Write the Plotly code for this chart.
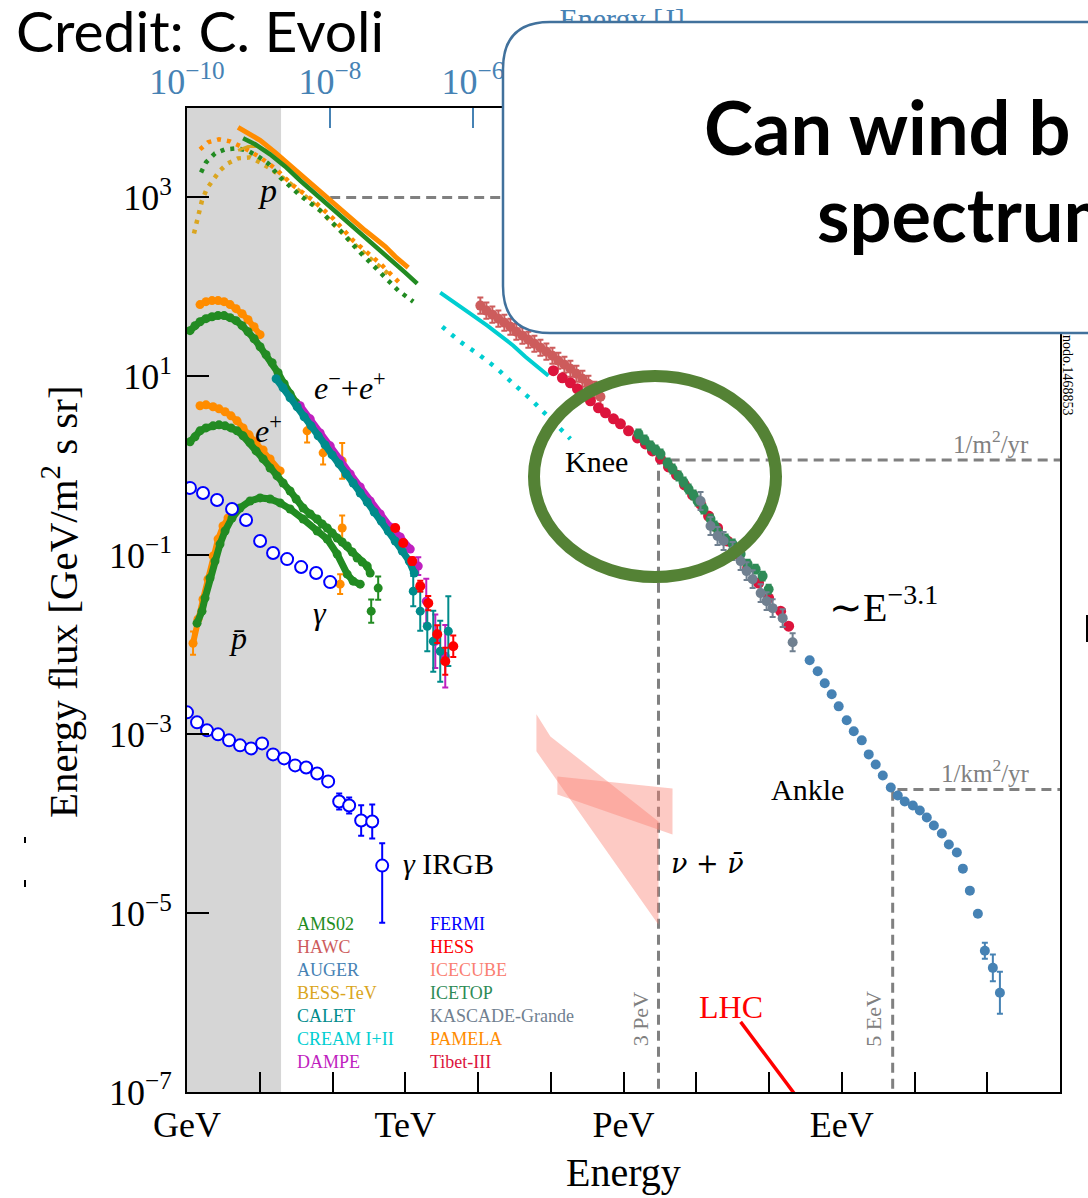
import numpy as np
import plotly.graph_objects as go

# ---------------- data: log10(E / GeV), log10(E^2 flux / GeV m^-2 s^-1 sr^-1) ----------------
# protons
p_pamela_logE = [0.702, 0.867, 1.005, 1.211, 1.417, 1.624, 1.830, 2.037, 2.243, 2.449, 2.587, 2.725, 2.862, 3.041]
p_pamela_logF = [3.784, 3.706, 3.638, 3.504, 3.358, 3.213, 3.067, 2.910, 2.765, 2.630, 2.541, 2.451, 2.339, 2.216]
p_ams_logE = [0.771, 0.936, 1.142, 1.349, 1.555, 1.761, 1.968, 2.174, 2.381, 2.587, 2.793, 3.000, 3.165]
p_ams_logF = [3.661, 3.594, 3.482, 3.347, 3.190, 3.045, 2.888, 2.742, 2.597, 2.451, 2.306, 2.160, 2.037]
p_bess_logE = [0.702, 0.839, 0.977, 1.115]
p_bess_logF = [3.526, 3.571, 3.571, 3.515]
# dotted curves
dot_pamela_logE = [0.179, 0.289, 0.440, 0.592, 0.798, 1.005, 1.211, 1.459, 1.734, 2.009, 2.284, 2.656, 2.931]
dot_pamela_logF = [3.538, 3.616, 3.650, 3.627, 3.549, 3.448, 3.325, 3.134, 2.966, 2.765, 2.518, 2.261, 2.037]
dot_ams_logE = [0.193, 0.261, 0.385, 0.523, 0.688, 0.826, 0.977, 1.115, 1.280, 1.555, 1.830, 2.105, 2.381, 2.656, 2.904, 3.110]
dot_ams_logF = [3.280, 3.392, 3.493, 3.538, 3.549, 3.526, 3.459, 3.381, 3.224, 3.022, 2.854, 2.630, 2.384, 2.160, 1.959, 1.835]
dot_bess_logE = [0.096, 0.138, 0.206, 0.275, 0.358, 0.454, 0.564, 0.702, 0.867, 1.005, 1.183, 1.417, 1.693, 1.968, 2.243, 2.518, 2.793]
dot_bess_logF = [2.597, 2.742, 2.966, 3.101, 3.190, 3.302, 3.381, 3.437, 3.448, 3.392, 3.302, 3.157, 2.966, 2.742, 2.518, 2.317, 2.127]
# CREAM
cream_logE = [3.481, 3.688, 3.894, 4.128, 4.307, 4.486, 4.651, 4.816, 4.968]
cream_logF = [1.936, 1.824, 1.701, 1.567, 1.455, 1.343, 1.219, 1.107, 1.007]
cream_dot_logE = [3.509, 3.757, 4.032, 4.266, 4.486, 4.720, 4.954, 5.105, 5.270]
cream_dot_logF = [1.555, 1.387, 1.231, 1.085, 0.917, 0.749, 0.559, 0.436, 0.301]
# HAWC
hawc_logE = [4.032, 4.115, 4.197, 4.280, 4.362, 4.445, 4.527, 4.610, 4.692, 4.775, 4.858,
             4.940, 5.023, 5.105, 5.188, 5.270, 5.353, 5.435, 5.518, 5.601, 5.683]
hawc_logF = [1.791, 1.735, 1.690, 1.645, 1.600, 1.555, 1.499, 1.455, 1.410, 1.365, 1.320,
             1.276, 1.231, 1.175, 1.130, 1.085, 1.029, 0.973, 0.917, 0.850, 0.772]
# Tibet-III
tibet_logE = [5.036, 5.160, 5.270, 5.367, 5.463, 5.546, 5.656, 5.752, 5.862, 5.958, 6.069, 6.192, 6.302, 6.398,
              6.509, 6.619, 6.729, 6.839, 6.949, 7.059, 7.169, 7.293, 7.430, 7.568, 7.706, 7.857, 7.995, 8.160, 8.270]
tibet_logF = [1.063, 0.984, 0.928, 0.861, 0.794, 0.727, 0.648, 0.592, 0.525, 0.469, 0.391, 0.312, 0.245, 0.167,
              0.077, -0.012, -0.102, -0.214, -0.326, -0.427, -0.561, -0.695, -0.841, -0.987, -1.143, -1.311,
              -1.479, -1.625, -1.793]
# ICETOP
icetop_logE = [6.206, 6.289, 6.371, 6.440, 6.509, 6.605, 6.674, 6.757, 6.825, 6.894, 6.963, 7.018, 7.100,
               7.196, 7.252, 7.307, 7.403, 7.500, 7.610, 7.706, 7.816, 7.912, 7.995]
icetop_logF = [0.357, 0.290, 0.223, 0.178, 0.133, 0.032, -0.035, -0.113, -0.180, -0.259, -0.326, -0.393, -0.483,
               -0.595, -0.673, -0.751, -0.819, -0.875, -0.987, -1.099, -1.155, -1.233, -1.379]
# KASCADE-Grande
kascade_logE = [7.059, 7.196, 7.293, 7.376, 7.500, 7.610, 7.692, 7.775, 7.885, 7.967, 8.050, 8.188, 8.325]
kascade_logF = [-0.393, -0.673, -0.785, -0.841, -0.953, -1.065, -1.177, -1.267, -1.423, -1.513, -1.591, -1.703, -1.972]
# AUGER
auger_logE = [8.559, 8.669, 8.766, 8.862, 8.958, 9.068, 9.165, 9.275, 9.371, 9.467, 9.564, 9.674, 9.770, 9.866,
              9.977, 10.073, 10.169, 10.266, 10.376, 10.472, 10.582, 10.665, 10.761, 10.871, 10.967, 11.077, 11.174]
auger_logF = [-2.174, -2.297, -2.431, -2.554, -2.689, -2.845, -2.968, -3.069, -3.226, -3.338, -3.461, -3.596,
              -3.685, -3.752, -3.797, -3.853, -3.931, -4.021, -4.111, -4.234, -4.323, -4.503, -4.749, -5.007,
              -5.421, -5.612, -5.891]
auger_err = [0] * 24 + [0.09, 0.15, 0.235]
# electrons + positrons
ee_ams_logE = [0.041, 0.110, 0.179, 0.261, 0.344, 0.427, 0.509, 0.592, 0.674, 0.757, 0.839, 0.922, 1.005,
               1.087, 1.170, 1.252, 1.335, 1.417, 1.500]
ee_ams_logF = [1.511, 1.567, 1.611, 1.645, 1.667, 1.679, 1.679, 1.656, 1.623, 1.567, 1.499, 1.421, 1.331,
               1.242, 1.152, 1.040, 0.917, 0.805, 0.704]
ee_pamela_logE = [0.179, 0.261, 0.344, 0.427, 0.509, 0.592, 0.674, 0.757, 0.839, 0.922, 1.005]
ee_pamela_logF = [1.802, 1.835, 1.847, 1.847, 1.835, 1.802, 1.757, 1.701, 1.634, 1.555, 1.466]
ee_pamela_hi_logE = [1.651, 1.871, 2.133]
ee_pamela_hi_logF = [0.391, 0.145, 0.055]
ee_pamela_hi_err = [0.13, 0.13, 0.2]
ee_calet_logE = [1.225, 1.321, 1.417, 1.514, 1.610, 1.706, 1.803, 1.899, 1.995, 2.092, 2.188, 2.284, 2.381,
                 2.477, 2.573, 2.670, 2.766, 2.862, 2.959, 3.055, 3.124]
ee_calet_logF = [0.973, 0.872, 0.760, 0.660, 0.548, 0.447, 0.335, 0.234, 0.122, 0.021, -0.091, -0.192, -0.304,
                 -0.404, -0.516, -0.617, -0.729, -0.841, -0.953, -1.065, -1.199]
ee_calet_hi_logE = [3.110, 3.206, 3.303, 3.385, 3.481, 3.592]
ee_calet_hi_logF = [-1.401, -1.625, -1.793, -1.961, -2.073, -1.849]
ee_calet_hi_err = [0.17, 0.22, 0.28, 0.34, 0.34, 0.39]
ee_dampe_logE = [1.555, 1.693, 1.830, 1.968, 2.105, 2.243, 2.381, 2.518, 2.656, 2.793, 2.931, 3.069]
ee_dampe_logF = [0.671, 0.525, 0.368, 0.223, 0.066, -0.091, -0.236, -0.393, -0.539, -0.684, -0.796, -0.931]
ee_dampe_hi_logE = [3.179, 3.289, 3.413, 3.550]
ee_dampe_hi_logF = [-1.121, -1.513, -1.961, -2.129]
ee_dampe_hi_err = [0.1, 0.25, 0.3, 0.35]
ee_hess_logE = [2.862, 2.972, 3.096, 3.206, 3.316, 3.440, 3.550, 3.660]
ee_hess_logF = [-0.695, -0.863, -1.065, -1.345, -1.535, -1.882, -2.185, -2.017]
ee_hess_err = [0.03, 0.03, 0.04, 0.06, 0.08, 0.1, 0.15, 0.12]
# positrons
pos_ams_logE = [0.041, 0.110, 0.179, 0.261, 0.358, 0.440, 0.523, 0.605, 0.688, 0.771, 0.867, 0.950, 1.046,
                1.142, 1.238, 1.321, 1.417, 1.500, 1.596, 1.693, 1.789, 1.858, 1.927, 1.995, 2.064, 2.133,
                2.202, 2.271, 2.339, 2.408, 2.477, 2.518]
pos_ams_logF = [0.268, 0.324, 0.391, 0.424, 0.447, 0.458, 0.447, 0.424, 0.391, 0.335, 0.256, 0.167, 0.077,
                -0.024, -0.113, -0.192, -0.281, -0.371, -0.471, -0.539, -0.595, -0.651, -0.695, -0.751,
                -0.807, -0.852, -0.897, -0.964, -1.031, -1.076, -1.121, -1.199]
pos_ams_hi_logE = [2.628, 2.532]
pos_ams_hi_logF = [-1.367, -1.625]
pos_pamela_logE = [0.179, 0.261, 0.358, 0.440, 0.523, 0.605, 0.688, 0.771, 0.853, 0.950, 1.046, 1.142, 1.280]
pos_pamela_logF = [0.671, 0.682, 0.660, 0.637, 0.604, 0.559, 0.503, 0.424, 0.346, 0.268, 0.178, 0.077, -0.057]
pos_pamela_hi_logE = [2.133, 2.105]
pos_pamela_hi_logF = [-0.695, -1.323]
# antiprotons
pbar_ams_logE = [0.138, 0.206, 0.248, 0.316, 0.385, 0.454, 0.523, 0.619, 0.729, 0.867, 1.005, 1.142, 1.280,
                 1.417, 1.596, 1.789, 1.927, 2.064, 2.202, 2.284, 2.381]
pbar_ams_logF = [-1.759, -1.625, -1.479, -1.255, -1.065, -0.875, -0.729, -0.583, -0.471, -0.393, -0.359,
                 -0.371, -0.415, -0.483, -0.595, -0.729, -0.819, -0.987, -1.211, -1.289, -1.323]
pbar_pamela_logE = [0.083, 0.151, 0.220, 0.289, 0.358, 0.427, 0.495, 0.564]
pbar_pamela_logF = [-1.983, -1.714, -1.491, -1.267, -1.009, -0.819, -0.673, -0.583]
# diffuse gamma (FERMI)
gamma_logE = [0.041, 0.220, 0.413, 0.619, 0.812, 1.005, 1.183, 1.376, 1.569, 1.775, 1.968]
gamma_logF = [-0.247, -0.304, -0.382, -0.483, -0.606, -0.841, -0.975, -1.043, -1.132, -1.199, -1.300]
# gamma IRGB (FERMI)
irgb_logE = [0.0, 0.138, 0.275, 0.427, 0.578, 0.729, 0.881, 1.032, 1.183, 1.335, 1.486, 1.638, 1.789, 1.940,
             2.092, 2.229, 2.394, 2.546, 2.683]
irgb_logF = [-2.756, -2.868, -2.957, -3.002, -3.069, -3.125, -3.159, -3.103, -3.226, -3.271, -3.349, -3.372,
             -3.439, -3.528, -3.752, -3.797, -3.965, -3.976, -4.469]
irgb_err_up = [0.05] * 14 + [0.09, 0.09, 0.17, 0.19, 0.25]
irgb_err_dn = [0.05] * 14 + [0.09, 0.09, 0.17, 0.19, 0.64]
# neutrinos (ICECUBE bands)
nu_band1_logE = [4.803, 4.995, 6.481, 6.481, 4.803]
nu_band1_logF = [-2.778, -3.025, -3.976, -5.130, -3.192]
nu_band2_logE = [5.091, 6.674, 6.674, 5.091]
nu_band2_logF = [-3.473, -3.607, -4.122, -3.674]
# LHC
lhc_logE = [7.610, 8.435]
lhc_logF = [-6.216, -7.112]
# reference lines
ref_p_logE = [1.968, 12.0]
ref_p_logF = [3.0, 3.0]
knee_logE = [6.481, 6.481, 12.0]
knee_logF = [-7.5, 0.066, 0.066]
ankle_logE = [9.70, 9.70, 12.0]
ankle_logF = [-7.5, -3.618, -3.618]
band_logE = [0.0, 1.293]
# top axis (Joule)
top_range_logJ = [-10, 2.21]
top_tick_exps = [-10, -8, -6, -4, -2, 0]
top_title_logJ = -3.916

x_tick_labels = {0: "GeV", 3: "TeV", 6: "PeV", 9: "EeV"}
y_tick_exps = [-7, -5, -3, -1, 1, 3]

legend_left = ["AMS02", "HAWC", "AUGER", "BESS-TeV", "CALET", "CREAM I+II", "DAMPE"]
legend_right = ["FERMI", "HESS", "ICECUBE", "ICETOP", "KASCADE-Grande", "PAMELA", "Tibet-III"]

C = {
    "AMS02": "#228b22", "HAWC": "#cd5c5c", "AUGER": "#4682b4", "BESS-TeV": "#daa520",
    "CALET": "#008b8b", "CREAM I+II": "#00ced1", "DAMPE": "#bf1fbf", "FERMI": "#0000ff",
    "HESS": "#ff0000", "ICECUBE": "#fa8072", "ICETOP": "#2e8b57", "KASCADE-Grande": "#708090",
    "PAMELA": "#ff8c00", "Tibet-III": "#dc143c",
}

SERIF = "Liberation Serif"
J_BLUE = "#4682b4"


def P10(a):
    return list(np.power(10.0, np.array(a, dtype=float)))


def errbars(logF, up, dn, color):
    F = np.power(10.0, np.array(logF, dtype=float))
    return dict(type="data", symmetric=False,
                array=list(F * (np.power(10.0, np.array(up, dtype=float)) - 1)),
                arrayminus=list(F * (1 - np.power(10.0, -np.array(dn, dtype=float)))),
                color=color, thickness=2, width=3)


fig = go.Figure()


def line(logE, logF, color, width, dash=None, xaxis="x"):
    fig.add_trace(go.Scatter(x=P10(logE), y=P10(logF), mode="lines", xaxis=xaxis,
                             line=dict(color=color, width=width, dash=dash), hoverinfo="skip"))


def dots(logE, logF, color, size=9, err=None, open_=False, chain=0):
    mk = dict(color=color, size=size, line=dict(width=0))
    if open_:
        mk = dict(color="white", size=size, line=dict(color=color, width=2))
    kw = {}
    if err is not None:
        kw["error_y"] = errbars(logF, err[0], err[1], color)
    mode = "markers"
    if chain:
        mode = "lines+markers"
        kw["line"] = dict(color=color, width=chain)
    fig.add_trace(go.Scatter(x=P10(logE), y=P10(logF), mode=mode, marker=mk,
                             hoverinfo="skip", **kw))


# gray band
fig.add_trace(go.Scatter(x=P10([band_logE[0], band_logE[1], band_logE[1], band_logE[0], band_logE[0]]),
                         y=P10([-8, -8, 5, 5, -8]), mode="lines", fill="toself",
                         fillcolor="#d6d6d6", line=dict(width=0), hoverinfo="skip"))
# reference dashed lines
for le, lf in [(ref_p_logE, ref_p_logF), (knee_logE, knee_logF), (ankle_logE, ankle_logF)]:
    line(le, lf, "#808080", 3, dash="10px,6px")
# neutrino bands
for le, lf in [(nu_band1_logE, nu_band1_logF), (nu_band2_logE, nu_band2_logF)]:
    fig.add_trace(go.Scatter(x=P10(le), y=P10(lf), mode="lines", fill="toself",
                             fillcolor="rgba(250,128,114,0.42)", line=dict(width=0), hoverinfo="skip"))
# LHC
line(lhc_logE, lhc_logF, "#ff0000", 3.5)

# protons
line(dot_bess_logE, dot_bess_logF, C["BESS-TeV"], 4.5, dash="4px,6px")
line(dot_pamela_logE, dot_pamela_logF, C["PAMELA"], 4.5, dash="4px,6px")
line(dot_ams_logE, dot_ams_logF, C["AMS02"], 4.5, dash="4px,6px")
line(p_pamela_logE, p_pamela_logF, C["PAMELA"], 5)
line(p_bess_logE, p_bess_logF, C["BESS-TeV"], 3)
line(p_ams_logE, p_ams_logF, C["AMS02"], 4.5)
line(cream_dot_logE, cream_dot_logF, C["CREAM I+II"], 4.5, dash="4px,8px")
line(cream_logE, cream_logF, C["CREAM I+II"], 4)

# knee region
dots(hawc_logE, hawc_logF, C["HAWC"], 10, err=([0.09] * len(hawc_logE), [0.09] * len(hawc_logE)))
dots(tibet_logE, tibet_logF, C["Tibet-III"], 11)
dots(icetop_logE, icetop_logF, C["ICETOP"], 10, err=([0.05] * len(icetop_logE), [0.05] * len(icetop_logE)))
dots(kascade_logE, kascade_logF, C["KASCADE-Grande"], 10, err=([0.1] * len(kascade_logE), [0.1] * len(kascade_logE)))
dots(auger_logE, auger_logF, C["AUGER"], 10, err=(auger_err, auger_err))

# leptons / antiprotons
dots(pbar_pamela_logE, pbar_pamela_logF, C["PAMELA"], 9, err=([0.13] + [0.02] * 7, [0.13] + [0.02] * 7), chain=6)
dots(pbar_ams_logE, pbar_ams_logF, C["AMS02"], 9, chain=7)
dots(pos_pamela_logE, pos_pamela_logF, C["PAMELA"], 9, chain=6)
dots(pos_pamela_hi_logE, pos_pamela_hi_logF, C["PAMELA"], 9, err=([0.14, 0.11], [0.14, 0.11]))
dots(pos_ams_logE, pos_ams_logF, C["AMS02"], 9, chain=7)
dots(pos_ams_hi_logE, pos_ams_hi_logF, C["AMS02"], 9, err=([0.13, 0.13], [0.13, 0.13]))
dots(ee_pamela_logE, ee_pamela_logF, C["PAMELA"], 9, chain=6)
dots(ee_pamela_hi_logE, ee_pamela_hi_logF, C["PAMELA"], 9, err=(ee_pamela_hi_err, ee_pamela_hi_err))
dots(ee_ams_logE, ee_ams_logF, C["AMS02"], 9, chain=7)
dots(ee_dampe_logE, ee_dampe_logF, C["DAMPE"], 9, chain=7)
dots(ee_dampe_hi_logE, ee_dampe_hi_logF, C["DAMPE"], 9, err=(ee_dampe_hi_err, ee_dampe_hi_err))
dots(ee_calet_logE, ee_calet_logF, C["CALET"], 9, chain=7)
dots(ee_calet_hi_logE, ee_calet_hi_logF, C["CALET"], 9, err=(ee_calet_hi_err, ee_calet_hi_err))
dots(ee_hess_logE, ee_hess_logF, C["HESS"], 10, err=(ee_hess_err, ee_hess_err))
# gammas
dots(gamma_logE, gamma_logF, C["FERMI"], 12, open_=True)
dots(irgb_logE, irgb_logF, C["FERMI"], 12, err=(irgb_err_up, irgb_err_dn), open_=True)

# invisible anchors so the Joule axes are drawn
for ax in ["x2", "x3"]:
    fig.add_trace(go.Scatter(x=[10 ** top_title_logJ], y=[1e-9], xaxis=ax, mode="markers",
                             marker=dict(opacity=0), hoverinfo="skip"))

# ---------------- layout ----------------
L_, R_, T_, B_ = 187, 28, 108, 106
W, H = 1088, 1198
PW, PH = W - L_ - R_, H - T_ - B_


def X(px):
    return (px - L_) / PW


def Y(py):
    return (H - B_ - py) / PH


def sup_exp(e):
    s = str(e).replace("-", "−")
    return f"10<sup>{s}</sup>"


fig.update_layout(
    width=W, height=H, margin=dict(l=L_, r=R_, t=T_, b=B_, autoexpand=False),
    paper_bgcolor="white", plot_bgcolor="white", showlegend=False,
    font=dict(family=SERIF, color="black"),
    xaxis=dict(type="log", range=[0, 12], tickvals=[10.0 ** k for k in range(13)],
               ticktext=[x_tick_labels.get(k, "") for k in range(13)],
               ticks="inside", ticklen=20, tickwidth=2, tickcolor="black",
               showline=True, linecolor="black", linewidth=2, mirror=True, automargin=False,
               showgrid=False, zeroline=False, tickfont=dict(size=36, family=SERIF),
               ticklabelstandoff=0),
    yaxis=dict(type="log", range=[-7, 4], tickvals=[10.0 ** e for e in y_tick_exps],
               ticktext=[sup_exp(e) for e in y_tick_exps],
               ticks="inside", ticklen=22, tickwidth=2, tickcolor="black",
               showline=True, linecolor="black", linewidth=2, mirror=True, automargin=False,
               showgrid=False, zeroline=False, tickfont=dict(size=36, family=SERIF),
               ticklabelstandoff=6),
    xaxis2=dict(type="log", overlaying="x", side="top", anchor="y", range=top_range_logJ,
                tickvals=[10.0 ** e for e in top_tick_exps], ticktext=[sup_exp(e) for e in top_tick_exps],
                ticks="inside", ticklen=20, tickwidth=2, tickcolor=J_BLUE, automargin=False,
                tickfont=dict(size=36, family=SERIF, color=J_BLUE),
                showline=False, showgrid=False, zeroline=False, ticklabelstandoff=6),
    # axis whose single tick label is the top-axis title (kept under the slide box)
    xaxis3=dict(type="log", overlaying="x", side="top", anchor="y", range=top_range_logJ,
                tickvals=[10 ** top_title_logJ], ticktext=["Energy [J]"], ticks="", automargin=False,
                tickfont=dict(size=30, family=SERIF, color=J_BLUE),
                showline=False, showgrid=False, zeroline=False, ticklabelstandoff=72),
)

anns = []


def ann(text, x, y, size, color="black", ref="data", family=SERIF, **kw):
    d = dict(text=text, x=x, y=y, showarrow=False, font=dict(size=size, color=color, family=family),
             xanchor="center", yanchor="middle")
    if ref == "data":
        d.update(xref="x", yref="y")
    else:
        d.update(xref="paper", yref="paper")
    d.update(kw)
    anns.append(d)


# in-plot labels (log10 coordinates)
ann("<i>p</i>", 1.101, 3.078, 34)
ann("<i>e</i><sup>−</sup>+<i>e</i><sup>+</sup>", 2.243, 0.895, 32)
ann("<i>e</i><sup>+</sup>", 1.115, 0.413, 32)
ann("<i>p̄</i>", 0.702, -1.927, 32)
ann("<i>γ</i>", 1.830, -1.647, 32)
ann("<i>γ</i> IRGB", 3.592, -4.447, 30)
ann("Knee", 5.628, 0.044, 30)
ann("∼E<sup>−3.1</sup>", 9.578, -1.547, 40)
ann("Ankle", 8.532, -3.618, 30)
ann("<i>ν</i> + <i>ν̄</i>", 7.156, -4.447, 27, family="DejaVu Serif")
ann("1/m<sup>2</sup>/yr", 11.05, 0.268, 25, color="#808080")
ann("1/km<sup>2</sup>/yr", 10.981, -3.416, 25, color="#808080")
ann("3 PeV", 6.233, -6.183, 22, color="#808080", textangle=-90)
ann("5 EeV", 9.440, -6.183, 22, color="#808080", textangle=-90)
ann("LHC", 7.472, -6.048, 32, color="#ff0000")
# legend text
leg_y = [-5.118, -5.376, -5.634, -5.891, -6.149, -6.407, -6.664]
for i, name in enumerate(legend_left):
    ann(name, 1.486, leg_y[i], 18, color=C[name], xanchor="left")
for i, name in enumerate(legend_right):
    ann(name, 3.316, leg_y[i], 18, color=C[name], xanchor="left")

# axis titles
ann("Energy flux [GeV/m<sup>2</sup> s sr]", X(60), Y(602), 41, ref="paper", textangle=-90)
ann("Energy", X(623), Y(1172), 40, ref="paper")
ann("nodo.1468853", X(1068), Y(375), 14, ref="paper", textangle=90)

# slide overlay texts
ann("Credit: C. Evoli", X(14), Y(30), 57, ref="paper", family="Lato", xanchor="left")
ann("<b>Can wind b</b>", X(702), Y(126), 74, ref="paper", family="Lato", xanchor="left")
ann("<b>spectrum</b>", X(815), Y(213), 74, ref="paper", family="Lato", xanchor="left")

fig.update_layout(annotations=anns)


def Pt(px, py):
    return f"{X(px):.5f},{Y(py):.5f}"


r = 47
box_path = (f"M {Pt(503 + r, 22)} L {Pt(1150, 22)} L {Pt(1150, 333)} L {Pt(503 + r, 333)} "
            f"Q {Pt(503, 333)} {Pt(503, 333 - r)} L {Pt(503, 22 + r)} Q {Pt(503, 22)} {Pt(503 + r, 22)} Z")

shapes = [
    dict(type="path", xref="paper", yref="paper", path=box_path, fillcolor="white",
         line=dict(color="#41719c", width=2.5), layer="above"),
    dict(type="circle", xref="paper", yref="paper", x0=X(534), x1=X(776), y0=Y(577), y1=Y(376),
         line=dict(color="#548235", width=12), layer="above"),
    dict(type="line", xref="paper", yref="paper", x0=X(1087), x1=X(1087), y0=Y(615), y1=Y(642),
         line=dict(color="black", width=2), layer="above"),
    dict(type="line", xref="paper", yref="paper", x0=X(25), x1=X(25), y0=Y(837), y1=Y(843),
         line=dict(color="black", width=2), layer="above"),
    dict(type="line", xref="paper", yref="paper", x0=X(25), x1=X(25), y0=Y(880), y1=Y(887),
         line=dict(color="black", width=2), layer="above"),
]
fig.update_layout(shapes=shapes)

fig.write_html("out.html")
